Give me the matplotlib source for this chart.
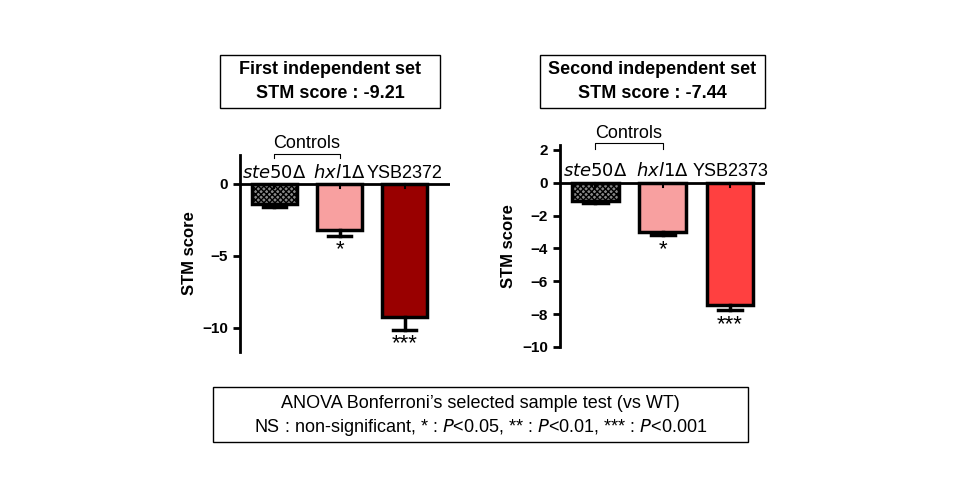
import matplotlib.pyplot as plt
from matplotlib.patches import Rectangle

strains_1 = ['ste50', 'hxl1', 'YSB2372']
scores_1 = [-1.4, -3.2, -9.21]
errors_1 = [0.2, 0.4, 0.9]
stars_1 = ['', '*', '***']

strains_2 = ['ste50', 'hxl1', 'YSB2373']
scores_2 = [-1.1, -3.0, -7.44]
errors_2 = [0.15, 0.2, 0.3]
stars_2 = ['', '*', '***']

plt.rcParams['font.family'] = ['Liberation Sans', 'DejaVu Sans']
fig = plt.figure(figsize=(9.6, 5), dpi=100)


def panel(rect, scores, errors, stars, colors, ylim, xlim, yticks, last_label, title):
    ax = fig.add_axes(rect)
    x = range(len(scores))
    bars = ax.bar(x, scores, width=0.69, color=colors, edgecolor='black', linewidth=2.5)
    bars[0].set_hatch('xxxxxx')
    bars[0].set_facecolor('#888888')
    bars[0].set_edgecolor('black')
    lower = [s - e for s, e in zip(scores, errors)]
    for i, (s, lo) in enumerate(zip(scores, lower)):
        ax.plot([i, i], [s, lo], color='black', lw=2.5)
        ax.plot([i - 0.18, i + 0.18], [lo, lo], color='black', lw=2.5)
        ax.plot([i, i], [0, -0.25 * (ylim[1] - ylim[0]) / 13], color='black', lw=1.5)
        if stars[i]:
            ax.text(i, lo - 0.25, stars[i], ha='center', va='top', fontsize=16)
    ax.axhline(0, color='black', lw=2)
    ax.set_xlim(*xlim)
    ax.set_ylim(*ylim)
    ax.set_yticks(yticks)
    ax.tick_params(axis='y', width=2, length=5, labelsize=11)
    for lab in ax.get_yticklabels():
        lab.set_fontweight('bold')
    ax.set_xticks([])
    for sp in ['top', 'right', 'bottom']:
        ax.spines[sp].set_visible(False)
    ax.spines['left'].set_linewidth(2)
    ax.set_ylabel('STM score', fontsize=12, fontweight='bold')
    off = 0.15 * (ylim[1] - ylim[0]) / 13
    ax.text(0, off, r'$\it{ste50}\Delta$', ha='center', va='bottom', fontsize=13)
    ax.text(1, off, r'$\it{hxl1}\Delta$', ha='center', va='bottom', fontsize=13)
    ax.text(2, off, last_label, ha='center', va='bottom', fontsize=13)
    # Controls bracket
    top = ylim[1]
    ax.plot([0, 0, 1, 1], [top - 0.1 * top, top + 0.1, top + 0.1, top - 0.1 * top],
            color='black', lw=0.8, clip_on=False)
    ax.text(0.5, top + 0.2, 'Controls', ha='center', va='bottom', fontsize=13)
    return ax


panel([0.25, 0.296, 0.219, 0.394], scores_1, errors_1, stars_1,
      ['#888888', '#F8A0A0', '#990000'], (-11.67, 2.0), (-0.53, 2.7),
      [0, -5, -10], 'YSB2372', '')
panel([0.583, 0.306, 0.214, 0.404], scores_2, errors_2, stars_2,
      ['#888888', '#F8A0A0', '#FF4040'], (-10, 2.3), (-0.53, 2.52),
      [2, 0, -2, -4, -6, -8, -10], 'YSB2373', '')

# text boxes
def box(x0, y0, w, h, lines, bold):
    fig.patches.append(Rectangle((x0 / 960, 1 - (y0 + h) / 500), w / 960, h / 500,
                                 transform=fig.transFigure, fill=False,
                                 edgecolor='black', lw=1))
    for k, (ln, yy) in enumerate(lines):
        fig.text((x0 + w / 2) / 960, 1 - yy / 500, ln, ha='center', va='center',
                 fontsize=13, fontweight='bold' if bold else 'normal')

box(220, 55, 220, 53, [('First independent set', 70), ('STM score : -9.21', 94)], True)
box(540, 55, 225, 53, [('Second independent set', 70), ('STM score : -7.44', 94)], True)
box(213, 387, 535, 55, [('ANOVA Bonferroni\u2019s selected sample test (vs WT)', 403),
                        ('NS : non-significant, * : $\\it{P}$<0.05, ** : $\\it{P}$<0.01, *** : $\\it{P}$<0.001', 427)], False)

fig.savefig('out.png', dpi=100)
